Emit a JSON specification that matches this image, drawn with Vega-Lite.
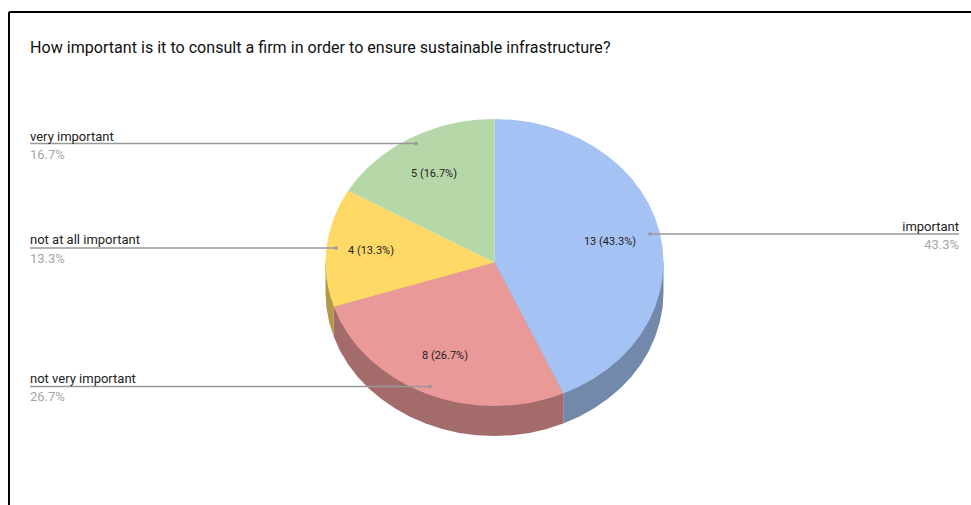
{
"$schema":"https://vega.github.io/schema/vega-lite/v6.json",
"width":971,"height":505,"padding":0,
"autosize":{"type":"none"},
"background":"#ffffff",
"config":{"view":{"stroke":null},"text":{"font":"Roboto"}},
"datasets":{
"side":[
{"s":"important depth","i":0,"x":663.5,"y":292.5},{"s":"important depth","i":1,"x":662.6,"y":307.5},{"s":"important depth","i":2,"x":659.8,"y":322.3},{"s":"important depth","i":3,"x":655.2,"y":336.8},{"s":"important depth","i":4,"x":648.9,"y":350.9},{"s":"important depth","i":5,"x":640.9,"y":364.3},{"s":"important depth","i":6,"x":631.2,"y":376.9},{"s":"important depth","i":7,"x":620.1,"y":388.5},{"s":"important depth","i":8,"x":607.6,"y":399.1},{"s":"important depth","i":9,"x":593.8,"y":408.6},{"s":"important depth","i":10,"x":579,"y":416.8},{"s":"important depth","i":11,"x":563.2,"y":423.6},{"s":"important depth","i":12,"x":563.2,"y":393.6},{"s":"important depth","i":13,"x":494.5,"y":262.5},{"s":"important depth","i":14,"x":663.5,"y":262.5},
{"s":"not very important depth","i":0,"x":563.2,"y":423.6},{"s":"not very important depth","i":1,"x":546.7,"y":429},{"s":"not very important depth","i":2,"x":529.6,"y":432.9},{"s":"not very important depth","i":3,"x":512.2,"y":435.2},{"s":"not very important depth","i":4,"x":494.5,"y":436},{"s":"not very important depth","i":5,"x":476.8,"y":435.2},{"s":"not very important depth","i":6,"x":459.4,"y":432.9},{"s":"not very important depth","i":7,"x":442.3,"y":429},{"s":"not very important depth","i":8,"x":425.8,"y":423.6},{"s":"not very important depth","i":9,"x":410,"y":416.8},{"s":"not very important depth","i":10,"x":395.2,"y":408.6},{"s":"not very important depth","i":11,"x":381.4,"y":399.1},{"s":"not very important depth","i":12,"x":368.9,"y":388.5},{"s":"not very important depth","i":13,"x":357.8,"y":376.9},{"s":"not very important depth","i":14,"x":348.1,"y":364.3},{"s":"not very important depth","i":15,"x":340.1,"y":350.9},{"s":"not very important depth","i":16,"x":333.8,"y":336.8},{"s":"not very important depth","i":17,"x":333.8,"y":306.8},{"s":"not very important depth","i":18,"x":494.5,"y":262.5},{"s":"not very important depth","i":19,"x":563.2,"y":393.6},
{"s":"not at all important depth","i":0,"x":333.8,"y":336.8},{"s":"not at all important depth","i":1,"x":329.2,"y":322.3},{"s":"not at all important depth","i":2,"x":326.4,"y":307.5},{"s":"not at all important depth","i":3,"x":325.5,"y":292.5},{"s":"not at all important depth","i":4,"x":325.5,"y":262.5},{"s":"not at all important depth","i":5,"x":494.5,"y":262.5},{"s":"not at all important depth","i":6,"x":333.8,"y":306.8}
],
"top":[
{"s":"important","i":0,"x":494.5,"y":262.5},{"s":"important","i":1,"x":494.5,"y":119},{"s":"important","i":2,"x":512.2,"y":119.8},{"s":"important","i":3,"x":529.6,"y":122.1},{"s":"important","i":4,"x":546.7,"y":126},{"s":"important","i":5,"x":563.2,"y":131.4},{"s":"important","i":6,"x":579,"y":138.2},{"s":"important","i":7,"x":593.8,"y":146.4},{"s":"important","i":8,"x":607.6,"y":155.9},{"s":"important","i":9,"x":620.1,"y":166.5},{"s":"important","i":10,"x":631.2,"y":178.1},{"s":"important","i":11,"x":640.9,"y":190.7},{"s":"important","i":12,"x":648.9,"y":204.1},{"s":"important","i":13,"x":655.2,"y":218.2},{"s":"important","i":14,"x":659.8,"y":232.7},{"s":"important","i":15,"x":662.6,"y":247.5},{"s":"important","i":16,"x":663.5,"y":262.5},{"s":"important","i":17,"x":662.6,"y":277.5},{"s":"important","i":18,"x":659.8,"y":292.3},{"s":"important","i":19,"x":655.2,"y":306.8},{"s":"important","i":20,"x":648.9,"y":320.9},{"s":"important","i":21,"x":640.9,"y":334.3},{"s":"important","i":22,"x":631.2,"y":346.9},{"s":"important","i":23,"x":620.1,"y":358.5},{"s":"important","i":24,"x":607.6,"y":369.1},{"s":"important","i":25,"x":593.8,"y":378.6},{"s":"important","i":26,"x":579,"y":386.8},{"s":"important","i":27,"x":563.2,"y":393.6},
{"s":"not very important","i":0,"x":494.5,"y":262.5},{"s":"not very important","i":1,"x":563.2,"y":393.6},{"s":"not very important","i":2,"x":546.7,"y":399},{"s":"not very important","i":3,"x":529.6,"y":402.9},{"s":"not very important","i":4,"x":512.2,"y":405.2},{"s":"not very important","i":5,"x":494.5,"y":406},{"s":"not very important","i":6,"x":476.8,"y":405.2},{"s":"not very important","i":7,"x":459.4,"y":402.9},{"s":"not very important","i":8,"x":442.3,"y":399},{"s":"not very important","i":9,"x":425.8,"y":393.6},{"s":"not very important","i":10,"x":410,"y":386.8},{"s":"not very important","i":11,"x":395.2,"y":378.6},{"s":"not very important","i":12,"x":381.4,"y":369.1},{"s":"not very important","i":13,"x":368.9,"y":358.5},{"s":"not very important","i":14,"x":357.8,"y":346.9},{"s":"not very important","i":15,"x":348.1,"y":334.3},{"s":"not very important","i":16,"x":340.1,"y":320.9},{"s":"not very important","i":17,"x":333.8,"y":306.8},
{"s":"not at all important","i":0,"x":494.5,"y":262.5},{"s":"not at all important","i":1,"x":333.8,"y":306.8},{"s":"not at all important","i":2,"x":329.2,"y":292.3},{"s":"not at all important","i":3,"x":326.4,"y":277.5},{"s":"not at all important","i":4,"x":325.5,"y":262.5},{"s":"not at all important","i":5,"x":326.4,"y":247.5},{"s":"not at all important","i":6,"x":329.2,"y":232.7},{"s":"not at all important","i":7,"x":333.8,"y":218.2},{"s":"not at all important","i":8,"x":340.1,"y":204.1},{"s":"not at all important","i":9,"x":348.1,"y":190.7},
{"s":"very important","i":0,"x":494.5,"y":262.5},{"s":"very important","i":1,"x":348.1,"y":190.7},{"s":"very important","i":2,"x":357.8,"y":178.1},{"s":"very important","i":3,"x":368.9,"y":166.5},{"s":"very important","i":4,"x":381.4,"y":155.9},{"s":"very important","i":5,"x":395.2,"y":146.4},{"s":"very important","i":6,"x":410,"y":138.2},{"s":"very important","i":7,"x":425.8,"y":131.4},{"s":"very important","i":8,"x":442.3,"y":126},{"s":"very important","i":9,"x":459.4,"y":122.1},{"s":"very important","i":10,"x":476.8,"y":119.8},{"s":"very important","i":11,"x":494.5,"y":119}
],
"leaders":[
{"name":"very important","pct":"16.7%","inside":"5 (16.7%)","ix":434,"iy":174,"x1":30,"x2":416,"ly":143.5,"tx":30,"ny":141,"py":159},
{"name":"not at all important","pct":"13.3%","inside":"4 (13.3%)","ix":371,"iy":251,"x1":30,"x2":336,"ly":248,"tx":30,"ny":244,"py":263},
{"name":"not very important","pct":"26.7%","inside":"8 (26.7%)","ix":445,"iy":356,"x1":30,"x2":430,"ly":386.5,"tx":30,"ny":383,"py":401}
],
"leadersRight":[
{"name":"important","pct":"43.3%","inside":"13 (43.3%)","ix":610,"iy":242,"x1":650,"x2":959,"ly":234,"tx":959,"ny":231,"py":249}
],
"frame":[{"x":9,"x2":971,"y":12,"y2":12},{"x":9,"x2":9,"y":12,"y2":505}],
"heading":[{"t":"How important is it to consult a firm in order to ensure sustainable infrastructure?","x":30,"y":53}]
},
"layer":[
{"data":{"name":"side"},"mark":{"type":"line","strokeWidth":0,"interpolate":"linear-closed"},
"encoding":{
"x":{"field":"x","type":"quantitative","scale":{"domain":[0,971],"nice":false,"zero":false},"axis":null},
"y":{"field":"y","type":"quantitative","scale":{"domain":[505,0],"nice":false,"zero":false},"axis":null},
"order":{"field":"i","type":"quantitative"},
"fill":{"field":"s","type":"nominal","legend":null,"scale":{"domain":["important depth","not very important depth","not at all important depth","important","not very important","not at all important","very important"],"range":["#7389ab","#a46b6b","#b39848","#a4c2f4","#ea9999","#ffd966","#b6d7a8"]}}}},
{"data":{"name":"top"},"mark":{"type":"line","strokeWidth":0,"interpolate":"linear-closed"},
"encoding":{
"x":{"field":"x","type":"quantitative"},
"y":{"field":"y","type":"quantitative"},
"order":{"field":"i","type":"quantitative"},
"fill":{"field":"s","type":"nominal","legend":null}}},
{"data":{"name":"frame"},"mark":{"type":"rule","color":"#000000","strokeWidth":2},
"encoding":{"x":{"field":"x","type":"quantitative"},"x2":{"field":"x2"},"y":{"field":"y","type":"quantitative"},"y2":{"field":"y2"}}},
{"data":{"name":"heading"},"mark":{"type":"text","align":"left","baseline":"alphabetic","fontSize":16.1,"color":"#111111"},
"encoding":{"x":{"field":"x","type":"quantitative"},"y":{"field":"y","type":"quantitative"},"text":{"field":"t"}}},
{"data":{"name":"leaders"},
"layer":[
{"mark":{"type":"rule","color":"#999999","strokeWidth":1.5},"encoding":{"x":{"field":"x1","type":"quantitative"},"x2":{"field":"x2"},"y":{"field":"ly","type":"quantitative"}}},
{"mark":{"type":"point","filled":true,"color":"#999999","size":14,"opacity":1},"encoding":{"x":{"field":"x2","type":"quantitative"},"y":{"field":"ly","type":"quantitative"}}},
{"mark":{"type":"text","align":"left","baseline":"alphabetic","fontSize":13,"color":"#222222"},"encoding":{"x":{"field":"tx","type":"quantitative"},"y":{"field":"ny","type":"quantitative"},"text":{"field":"name"}}},
{"mark":{"type":"text","align":"left","baseline":"alphabetic","fontSize":13,"color":"#a6a6a6"},"encoding":{"x":{"field":"tx","type":"quantitative"},"y":{"field":"py","type":"quantitative"},"text":{"field":"pct"}}},
{"mark":{"type":"text","align":"center","baseline":"middle","fontSize":11,"color":"#222222"},"encoding":{"x":{"field":"ix","type":"quantitative"},"y":{"field":"iy","type":"quantitative"},"text":{"field":"inside"}}}
]},
{"data":{"name":"leadersRight"},
"layer":[
{"mark":{"type":"rule","color":"#999999","strokeWidth":1.5},"encoding":{"x":{"field":"x1","type":"quantitative"},"x2":{"field":"x2"},"y":{"field":"ly","type":"quantitative"}}},
{"mark":{"type":"point","filled":true,"color":"#999999","size":14,"opacity":1},"encoding":{"x":{"field":"x1","type":"quantitative"},"y":{"field":"ly","type":"quantitative"}}},
{"mark":{"type":"text","align":"right","baseline":"alphabetic","fontSize":13,"color":"#222222"},"encoding":{"x":{"field":"tx","type":"quantitative"},"y":{"field":"ny","type":"quantitative"},"text":{"field":"name"}}},
{"mark":{"type":"text","align":"right","baseline":"alphabetic","fontSize":13,"color":"#a6a6a6"},"encoding":{"x":{"field":"tx","type":"quantitative"},"y":{"field":"py","type":"quantitative"},"text":{"field":"pct"}}},
{"mark":{"type":"text","align":"center","baseline":"middle","fontSize":11,"color":"#222222"},"encoding":{"x":{"field":"ix","type":"quantitative"},"y":{"field":"iy","type":"quantitative"},"text":{"field":"inside"}}}
]}
]
}
